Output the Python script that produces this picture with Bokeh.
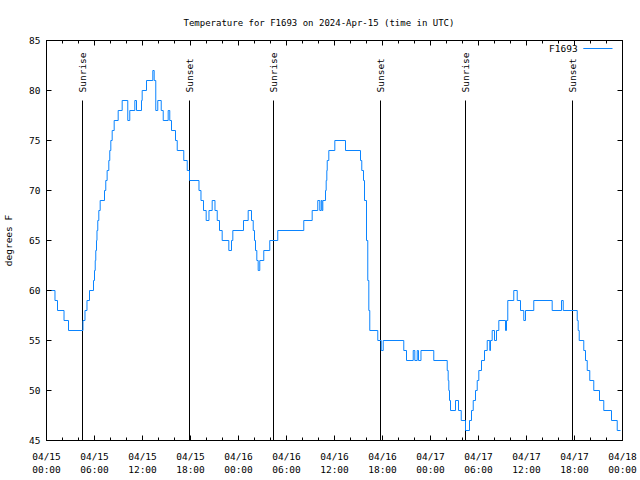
import math
from bokeh.plotting import figure
from bokeh.models import Range1d, FixedTicker, LinearAxis, Label, Arrow, ColumnDataSource
from bokeh.core.properties import value
from bokeh.embed import file_html
from bokeh.resources import INLINE

# hours since 2024-04-15 00:00 UTC where the reading changes, and the reading (deg F)
hours = [0.0, 1.06, 1.375, 2.19, 2.75, 4.56, 4.81, 5.06, 5.375, 5.875, 6.0, 6.09, 6.16, 6.25,
         6.31, 6.41, 6.54, 6.71, 7.25, 7.41, 7.58, 7.79, 7.91, 8.04, 8.21, 8.46, 8.96, 9.46,
         10.16, 10.41, 11.04, 11.25, 11.875, 11.96, 12.5, 13.29, 13.46, 13.66, 13.91, 14.34,
         14.59, 15.21, 15.41, 15.625, 16.125, 16.34, 17.16, 17.59, 17.875, 19.06, 19.31,
         19.625, 19.96, 20.31, 20.71, 21.06, 21.34, 21.625, 21.96, 22.79, 23.125, 23.29,
         24.625, 25.21, 25.625, 25.84, 26.0, 26.125, 26.29, 26.46, 26.66, 27.16, 27.91, 28.91,
         32.16, 33.21, 33.91, 34.16, 34.34, 34.44, 34.54, 34.875, 34.96, 35.04, 35.09, 35.29,
         36.04, 37.375, 39.25, 39.41, 39.625, 39.75, 40.0, 40.16, 40.29, 40.41, 41.41, 41.84,
         42.09, 44.66, 45.0, 45.84, 46.04, 46.34, 46.5, 46.81, 48.41, 50.09, 50.21, 50.29,
         50.375, 50.5, 51.125, 51.5, 51.84, 52.375, 52.875, 53.125, 53.34, 53.625, 53.84,
         54.04, 54.375, 54.75, 55.09, 55.41, 55.5, 55.71, 56.0, 56.25, 56.54, 57.375, 57.5,
         57.66, 58.41, 58.84, 59.25, 59.66, 59.875, 60.91, 63.21, 64.375, 64.59, 66.34, 66.46,
         66.59, 67.16, 67.375, 67.59, 67.91, 68.41, 69.125, 69.66, 70.625, 71.34, 71.75]
temps = [60, 59, 58, 57, 56, 57, 58, 59, 60, 61, 62, 63, 64, 65,
         66, 67, 68, 69, 70, 71, 72, 73, 74, 75, 76, 77, 78, 79,
         77, 78, 79, 78, 79, 80, 81, 82, 81, 78, 79, 78,
         77, 78, 77, 76, 75, 74, 73, 72, 71, 70, 69,
         68, 67, 68, 69, 68, 67, 66, 65, 64, 65, 66,
         67, 68, 67, 66, 65, 64, 63, 62, 63, 64, 65, 66,
         67, 68, 69, 68, 69, 68, 69, 70, 71, 72, 73, 74,
         75, 74, 73, 72, 71, 69, 65, 61, 58, 56, 55, 54,
         55, 54, 53, 54, 53, 54, 53, 54, 53, 52, 51, 50,
         49, 48, 49, 48, 47, 46, 47, 48, 49, 50, 51,
         52, 53, 54, 55, 54, 55, 56, 55, 56, 57, 56, 57,
         59, 60, 59, 58, 57, 58, 59, 58, 59, 58, 57, 56,
         55, 54, 53, 52, 51, 50, 49, 48, 47, 46, 46]

sun_hours = [4.5, 17.875, 28.375, 41.75, 52.375, 65.75]
sun_labels = ["Sunrise", "Sunset", "Sunrise", "Sunset", "Sunrise", "Sunset"]

x_ticks = [0, 6, 12, 18, 24, 30, 36, 42, 48, 54, 60, 66, 72]
x_tick_labels = ["04/15\n00:00", "04/15\n06:00", "04/15\n12:00", "04/15\n18:00",
                 "04/16\n00:00", "04/16\n06:00", "04/16\n12:00", "04/16\n18:00",
                 "04/17\n00:00", "04/17\n06:00", "04/17\n12:00", "04/17\n18:00",
                 "04/18\n00:00"]
y_ticks = [45, 50, 55, 60, 65, 70, 75, 80, 85]

title = "Temperature for F1693 on 2024-Apr-15 (time in UTC)"
series_name = "F1693"
y_label = "degrees F"

FONT = "DejaVu Sans Mono"
FS = "9.5px"
LINE_COLOR = "#0a84ff"

y0, y1 = 45, 85
x0, x1 = 0, 72

p = figure(width=640, height=480, output_backend="svg", toolbar_location=None,
           x_range=Range1d(x0, x1), y_range=Range1d(y0, y1),
           min_border_left=46, min_border_right=18, min_border_top=40, min_border_bottom=40,
           x_axis_type=None, y_axis_type=None)
p.background_fill_color = "white"
p.border_fill_color = "white"
p.grid.visible = False
p.outline_line_color = "black"
p.outline_line_width = 1

minor = [h for h in range(0, 73, 2) if h % 6 != 0]
xt = FixedTicker(ticks=x_ticks, minor_ticks=minor)
yt = FixedTicker(ticks=y_ticks, minor_ticks=[])

def style(ax, labels=True):
    ax.axis_line_color = "black"
    ax.major_tick_line_color = "black"
    ax.minor_tick_line_color = "black"
    ax.major_tick_in = 5
    ax.major_tick_out = 0
    ax.minor_tick_in = 3
    ax.minor_tick_out = 0
    ax.major_label_text_font = FONT
    ax.major_label_text_font_size = FS if labels else "0px"
    ax.major_label_text_color = "black"
    if not labels:
        ax.major_label_standoff = 0

xb = LinearAxis(ticker=xt)
style(xb)
xb.major_label_overrides = {t: l for t, l in zip(x_ticks, x_tick_labels)}
xb.major_label_standoff = 10
p.add_layout(xb, "below")

xa = LinearAxis(ticker=xt)
style(xa, labels=False)
xa.major_label_overrides = {t: "" for t in x_ticks}
p.add_layout(xa, "above")

yl = LinearAxis(ticker=yt)
style(yl)
yl.major_label_standoff = 6
yl.axis_label = y_label
yl.axis_label_text_font = FONT
yl.axis_label_text_font_size = FS
yl.axis_label_text_font_style = "normal"
yl.axis_label_text_color = "black"
yl.axis_label_standoff = 12
p.add_layout(yl, "left")

yr = LinearAxis(ticker=yt)
style(yr, labels=False)
yr.major_label_overrides = {t: "" for t in y_ticks}
p.add_layout(yr, "right")

p.title.text = title
p.title.align = "left"
p.title.text_font = FONT
p.title.text_font_size = "9px"
p.title.text_font_style = "normal"
p.title.text_color = "black"
p.title.offset = 137
p.title.standoff = 26

# sunrise / sunset markers
line_top = y0 + 0.85 * (y1 - y0)
label_y = y0 + 0.87 * (y1 - y0)
p.segment(x0=sun_hours, y0=[y0] * len(sun_hours), x1=sun_hours, y1=[line_top] * len(sun_hours),
          line_color="black", line_width=1)
p.text(x=sun_hours, y=[label_y] * len(sun_hours), text=sun_labels, angle=math.pi / 2,
       text_align="left", text_baseline="middle", text_font=value(FONT),
       text_font_size=FS, text_color="black")

# temperature series
src = ColumnDataSource(dict(h=hours, t=temps))
p.step(x="h", y="t", source=src, mode="after", line_color=LINE_COLOR, line_width=1)

# gnuplot-style key (text then sample line) at top right
key_y = y1 - 0.02 * (y1 - y0)
p.add_layout(Label(x=66.4, y=key_y, text=series_name, text_align="right",
                   text_baseline="middle", text_font=FONT, text_font_size=FS,
                   text_color="black"))
p.add_layout(Arrow(x_start=67.1, y_start=key_y, x_end=70.75, y_end=key_y, end=None,
                   line_color=LINE_COLOR, line_width=1))

open("out.html", "w").write(file_html(p, INLINE))
